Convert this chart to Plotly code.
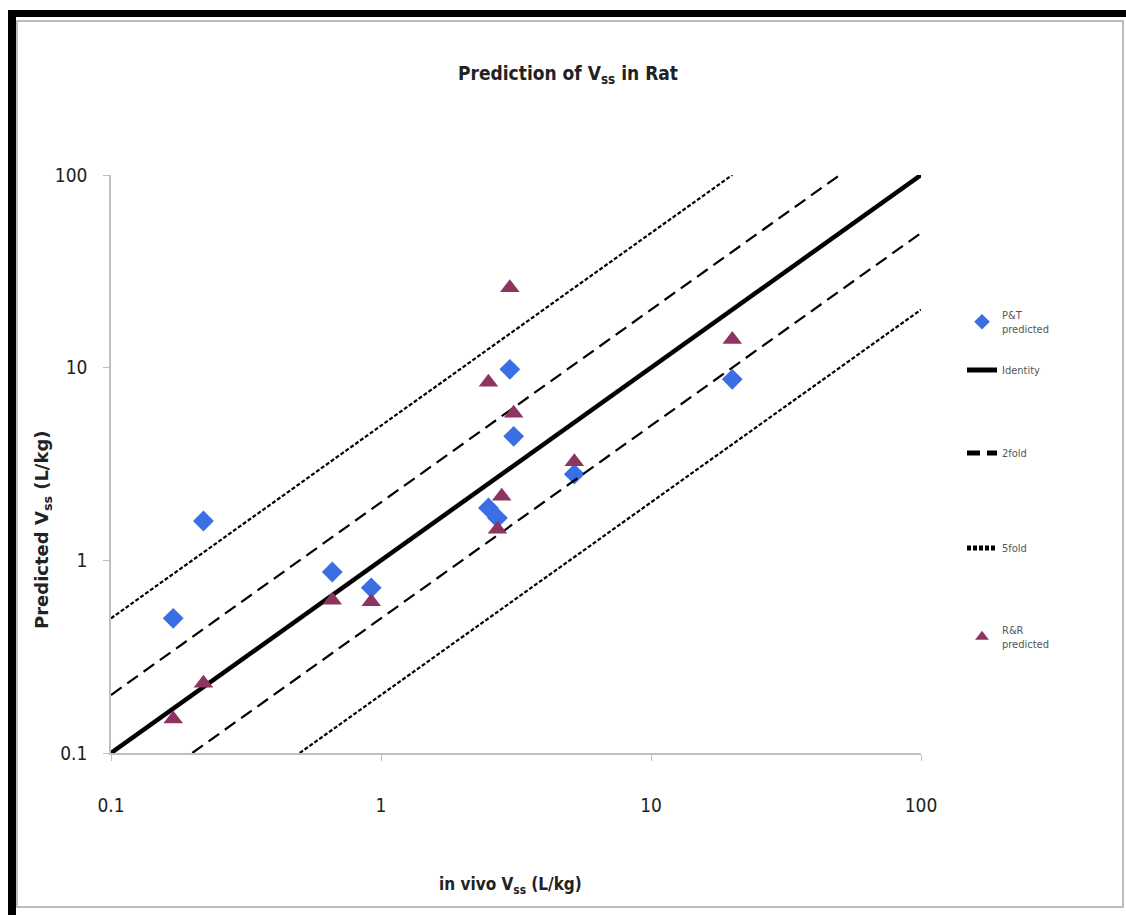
import plotly.graph_objects as go

# ---- data ----
pt_x = [0.17, 0.22, 0.66, 0.92, 2.5, 2.7, 3.0, 3.1, 5.2, 20]
pt_y = [0.50, 1.6, 0.87, 0.72, 1.87, 1.66, 9.8, 4.4, 2.8, 8.7]

rr_x = [0.17, 0.22, 0.66, 0.92, 2.5, 2.8, 2.7, 3.0, 3.1, 5.2, 20]
rr_y = [0.15, 0.23, 0.62, 0.61, 8.4, 2.15, 1.45, 26, 5.8, 3.25, 14]

identity_x = [0.1, 100]
identity_y = [0.1, 100]
two_up_x = [0.1, 50]
two_up_y = [0.2, 100]
two_lo_x = [0.2, 100]
two_lo_y = [0.1, 50]
five_up_x = [0.1, 20]
five_up_y = [0.5, 100]
five_lo_x = [0.5, 100]
five_lo_y = [0.1, 20]

tick_vals = [0.1, 1, 10, 100]
tick_text = ["0.1", "1", "10", "100"]

FONT = "DejaVu Sans Condensed, Roboto Condensed, Liberation Sans Narrow, Liberation Sans, sans-serif"
BLUE = "#3A6FE4"
MAROON = "#8E3460"

# plot area in pixels
L, R, T, B = 111, 921, 175, 753
W, H = 1126, 915


def px(x):
    return (x - L) / (R - L)


def py(y):
    return (B - y) / (B - T)


fig = go.Figure()

fig.add_trace(go.Scatter(x=pt_x, y=pt_y, mode="markers", name="P&T<br>predicted",
                         marker=dict(symbol="diamond", size=16, color=BLUE),
                         legend="legend"))
fig.add_trace(go.Scatter(x=identity_x, y=identity_y, mode="lines", name="Identity",
                         line=dict(color="black", width=4.5), legend="legend2"))
fig.add_trace(go.Scatter(x=two_up_x, y=two_up_y, mode="lines", name="2fold",
                         line=dict(color="black", width=2.2, dash="13px,7px"),
                         legend="legend3"))
fig.add_trace(go.Scatter(x=two_lo_x, y=two_lo_y, mode="lines", name="2fold",
                         line=dict(color="black", width=2.2, dash="13px,7px"),
                         showlegend=False))
fig.add_trace(go.Scatter(x=five_up_x, y=five_up_y, mode="lines", name="5fold",
                         line=dict(color="black", width=2.2, dash="4px,2px"),
                         legend="legend4"))
fig.add_trace(go.Scatter(x=five_lo_x, y=five_lo_y, mode="lines", name="5fold",
                         line=dict(color="black", width=2.2, dash="4px,2px"),
                         showlegend=False))
fig.add_trace(go.Scatter(x=rr_x, y=rr_y, mode="markers", name="R&R<br>predicted",
                         marker=dict(symbol="triangle-up", size=17, color=MAROON),
                         legend="legend5"))

axis_common = dict(
    type="log", range=[-1, 2], tickvals=tick_vals, ticktext=tick_text,
    showgrid=False, zeroline=False, showline=True, linecolor="#BFBFBF", linewidth=1.5,
    ticks="outside", ticklen=6, tickcolor="#BFBFBF",
    tickfont=dict(family=FONT, size=19, color="#222"),
)

leg_font = dict(family=FONT, size=11, color="#555")


def legend_at(ypix):
    return dict(x=px(962), y=py(ypix), xanchor="left", yanchor="middle",
                bgcolor="rgba(0,0,0,0)", font=leg_font, itemwidth=30,
                itemsizing="constant")


fig.update_layout(
    width=W, height=H,
    margin=dict(l=L, r=W - R, t=T, b=H - B),
    paper_bgcolor="white", plot_bgcolor="white",
    xaxis=dict(**axis_common, ticklabelstandoff=28),
    yaxis=dict(**axis_common, ticklabelstandoff=12),
    title=dict(text="<b>Prediction of V<sub>ss</sub> in Rat</b>", x=568 / W, xanchor="center",
               y=1 - 73 / H, yanchor="middle",
               font=dict(family=FONT, size=19, color="#222")),
    legend=legend_at(322),
    legend2=legend_at(370),
    legend3=legend_at(453),
    legend4=legend_at(548),
    legend5=legend_at(637),
    showlegend=True,
)

# axis titles
fig.add_annotation(text="<b>in vivo V<sub>ss</sub> (L/kg)</b>", xref="paper", yref="paper",
                   x=px(510), y=py(885), xanchor="center", yanchor="middle",
                   showarrow=False, font=dict(family=FONT, size=17, color="#222"))
fig.add_annotation(text="<b>Predicted V<sub>ss</sub> (L/kg)</b>", xref="paper", yref="paper",
                   x=px(43), y=py(530), xanchor="center", yanchor="middle", textangle=-90,
                   showarrow=False, font=dict(family="DejaVu Sans, Verdana, sans-serif",
                                              size=18, color="#222"))

# frame
fig.add_shape(type="rect", xref="paper", yref="paper",
              x0=px(17), x1=px(1123), y0=py(907), y1=py(21),
              line=dict(color="#BDBDBD", width=2), fillcolor="rgba(0,0,0,0)", layer="below")
fig.add_shape(type="rect", xref="paper", yref="paper",
              x0=px(8), x1=px(1130), y0=py(17), y1=py(10),
              line=dict(width=0), fillcolor="black")
fig.add_shape(type="rect", xref="paper", yref="paper",
              x0=px(8), x1=px(16), y0=py(920), y1=py(10),
              line=dict(width=0), fillcolor="black")

fig.write_html("out.html")
